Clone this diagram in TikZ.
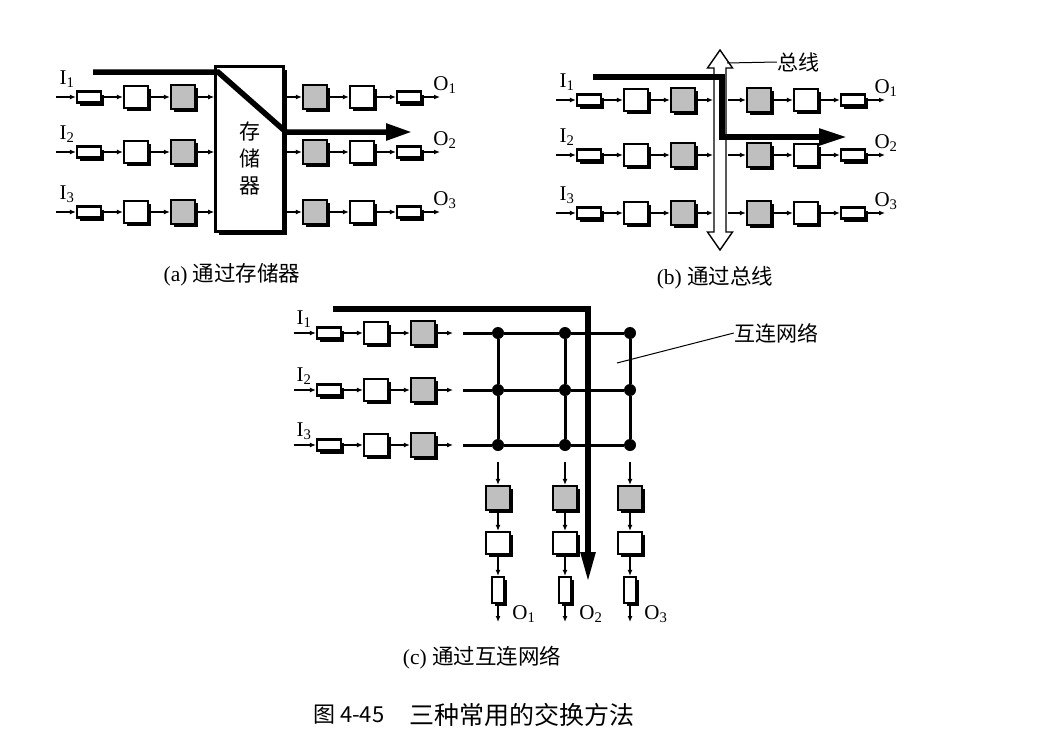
\documentclass[tikz,border=0pt]{standalone}
\usepackage{fontspec}
\setmainfont{Liberation Serif}
\newfontfamily\cjk{Noto Sans CJK SC}
\usetikzlibrary{positioning,arrows.meta,shadows}

\begin{document}
\begin{tikzpicture}[x=1pt, y=-1pt, node distance=47pt,
  blk/.style = {draw, line width=2.2pt, fill=white, inner sep=0pt,
    drop shadow={shadow xshift=3pt, shadow yshift=-3pt, fill=black, opacity=1}},
  buf/.style = {blk, minimum width=24pt, minimum height=11pt},
  sq/.style = {blk, minimum width=24pt, minimum height=22pt},
  gsq/.style = {sq, fill=black!25, minimum height=24pt},
  vbuf/.style = {blk, minimum width=12pt, minimum height=26pt},
  ar/.style = {line width=1.4pt, -{Latex[length=6pt,width=5pt]}},
  route/.style = {line width=5.5pt},
  io/.style = {font=\fontsize{21}{22}\selectfont, inner sep=0pt},
  lbl/.style = {font=\cjk\fontsize{21}{27}\selectfont, inner sep=0pt},
  capt/.style = {font=\fontsize{21.5}{23}\selectfont, inner sep=0pt},
  dot/.style = {circle, fill, inner sep=0pt, minimum size=12pt}]
\useasboundingbox (0,0) rectangle (1042,744);

% (a) through memory
\node[blk, line width=2.6pt, minimum width=68pt, minimum height=165pt] (mem) at (249.5,149) {};
\node[lbl, align=center] (memtxt) at (250,159) {存\\储\\器};
\foreach \r/\y in {1/97,2/152,3/212} {
  \node[buf] (a\r1) at (89,\y) {};
  \node[sq] (a\r2) [right of=a\r1] {};
  \node[gsq] (a\r3) [right of=a\r2] {};
  \node[gsq] (a\r4) at (315,\y) {};
  \node[sq] (a\r5) [right of=a\r4] {};
  \node[buf] (a\r6) [right of=a\r5] {};
  \node[io] (ai\r) at (67,\y-18) {I\textsubscript{\r}};
  \node[io] (ao\r) at (445,\y-12) {O\textsubscript{\r}};
  \coordinate (ain\r) at (56,\y);
  \coordinate (aout\r) at (440,\y);
  \draw[ar] (ain\r) -- (a\r1);
  \draw[ar] (a\r1) -- (a\r2);
  \draw[ar] (a\r2) -- (a\r3);
  \draw[ar] (a\r3) -- (a\r3 -| mem.west);
  \draw[ar] (mem.east |- a\r4) -- (a\r4);
  \draw[ar] (a\r4) -- (a\r5);
  \draw[ar] (a\r5) -- (a\r6);
  \draw[ar] (a\r6) -- (aout\r);
}
\coordinate (ra0) at (93,72);
\coordinate (ra1) at (218,72);
\coordinate (ra2) at (286,132);
\coordinate (ra3) at (412,132);
\draw[route, -{Triangle[length=26pt,width=16pt]}] (ra0) -- (ra1) -- (ra2) -- (ra3);
\node[capt] (capa) at (232,275) {(a) {\cjk 通过存储器}};

% (b) through bus
\foreach \r/\y in {1/100,2/155,3/213} {
  \node[buf] (b\r1) at (589,\y) {};
  \node[sq] (b\r2) [right of=b\r1] {};
  \node[gsq] (b\r3) [right of=b\r2] {};
  \node[gsq] (b\r4) at (759,\y) {};
  \node[sq] (b\r5) [right of=b\r4] {};
  \node[buf] (b\r6) [right of=b\r5] {};
  \node[io] (bi\r) at (567,\y-18) {I\textsubscript{\r}};
  \node[io] (bo\r) at (886,\y-12) {O\textsubscript{\r}};
  \coordinate (bin\r) at (556,\y);
  \coordinate (bl\r) at (713,\y);
  \coordinate (br\r) at (728,\y);
  \coordinate (bout\r) at (885,\y);
  \draw[ar] (bin\r) -- (b\r1);
  \draw[ar] (b\r1) -- (b\r2);
  \draw[ar] (b\r2) -- (b\r3);
  \draw[ar] (b\r3) -- (bl\r);
  \draw[ar] (br\r) -- (b\r4);
  \draw[ar] (b\r4) -- (b\r5);
  \draw[ar] (b\r5) -- (b\r6);
  \draw[ar] (b\r6) -- (bout\r);
}
\draw[line width=1.4pt, fill=white] (720,50) -- (732.5,68) -- (726,68) -- (726,232) -- (732.5,232)
  -- (720,250) -- (707.5,232) -- (714,232) -- (714,68) -- (707.5,68) -- cycle;
\coordinate (busp) at (727,63);
\node[lbl] (buslbl) at (798,62) {总线};
\draw[line width=1pt] (busp) -- (buslbl.west);
\coordinate (rb0) at (593,77);
\coordinate (rb1) at (722,77);
\coordinate (rb2) at (722,137);
\coordinate (rb3) at (847,137);
\draw[route, -{Triangle[length=28pt,width=16pt]}] (rb0) -- (rb1) -- (rb2) -- (rb3);
\node[capt] (capb) at (715,278) {(b) {\cjk 通过总线}};

% (c) through interconnection network
\foreach \r/\y in {1/333,2/390,3/445} {
  \node[buf] (c\r1) at (329,\y) {};
  \node[sq] (c\r2) [right of=c\r1] {};
  \node[gsq] (c\r3) [right of=c\r2] {};
  \node[io] (ci\r) at (304,\y-14) {I\textsubscript{\r}};
  \coordinate (cin\r) at (294,\y);
  \coordinate (cl\r) at (453,\y);
  \coordinate (h\r) at (463,\y);
  \node[dot] (g\r1) at (498,\y) {};
  \node[dot] (g\r2) at (565,\y) {};
  \node[dot] (g\r3) at (630,\y) {};
  \draw[ar] (cin\r) -- (c\r1);
  \draw[ar] (c\r1) -- (c\r2);
  \draw[ar] (c\r2) -- (c\r3);
  \draw[ar] (c\r3) -- (cl\r);
  \draw[line width=3pt] (h\r) -- (g\r1) -- (g\r2) -- (g\r3);
}
\foreach \c/\x in {1/498,2/565,3/630} {
  \draw[line width=3pt] (g1\c) -- (g2\c) -- (g3\c);
  \node[gsq] (d\c1) at (\x,498) {};
  \node[sq] (d\c2) [below of=d\c1, node distance=45pt] {};
  \node[vbuf] (d\c3) [below of=d\c2, node distance=47pt] {};
  \node[io] (do\c) at (\x+26,614) {O\textsubscript{\c}};
  \coordinate (dt\c) at (\x,462);
  \coordinate (dout\c) at (\x,622);
  \draw[ar] (dt\c) -- (d\c1);
  \draw[ar] (d\c1) -- (d\c2);
  \draw[ar] (d\c2) -- (d\c3);
  \draw[ar] (d\c3) -- (dout\c);
}
\coordinate (rc0) at (333,309);
\coordinate (rc1) at (588,309);
\coordinate (rc2) at (588,582);
\draw[route, -{Triangle[length=30pt,width=14pt]}] (rc0) -- (rc1) -- (rc2);
\coordinate (netp) at (617,363);
\node[lbl] (netlbl) at (776,333) {互连网络};
\draw[line width=1pt] (netp) -- (netlbl.west);
\node[capt] (capc) at (482,658) {(c) {\cjk 通过互连网络}};

\node[font=\cjk\fontsize{22}{24}\selectfont, inner sep=0pt, anchor=west] (figno) at (313,715) {图 4-45};
\node[font=\cjk\fontsize{25}{27}\selectfont, inner sep=0pt, anchor=west] (figttl) at (409,715) {三种常用的交换方法};
\end{tikzpicture}
\end{document}
